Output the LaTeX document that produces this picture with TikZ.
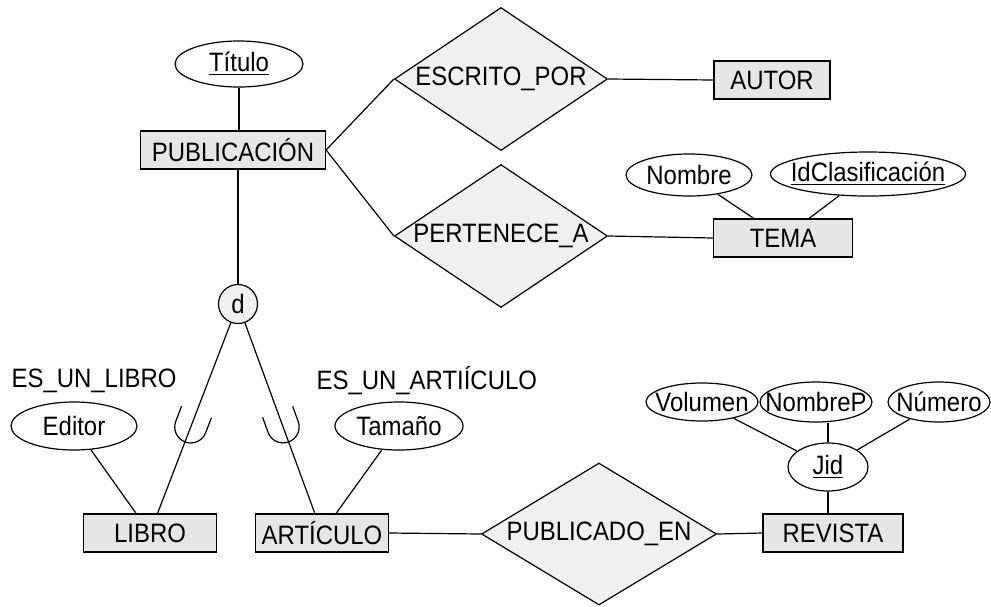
\documentclass[tikz,border=0pt]{standalone}
\usepackage{fontspec}
\setmainfont[FakeStretch=0.9]{Liberation Sans}
\usetikzlibrary{shapes.geometric}
\definecolor{ErEntity}{HTML}{E6E6E6}
\definecolor{ErRelation}{HTML}{F0F0F0}

\newcommand{\fixtext}[1]{\makebox[0pt]{#1}}

\tikzset{
  entity/.style={draw, fill=ErEntity, minimum height=19pt, inner sep=0pt},
  relation/.style={draw, fill=ErRelation, shape=diamond, aspect=1.5, inner sep=0pt},
  attrib/.style={draw, fill=white, shape=ellipse, inner sep=0pt},
  er label/.style={inner sep=0pt, anchor=west}
}

\begin{document}
\begin{tikzpicture}[x=0.5pt, y=-0.5pt, line width=0.6pt, font=\fontsize{13.3}{15}\selectfont]
    \useasboundingbox (0,0) rectangle (991,606);

    % Superclass and its key
    \node[entity, minimum width=92.5pt] (pub) at (233,150) {PUBLICACIÓN};
    \node[attrib, minimum width=64pt, minimum height=23pt] (titulo) at (239,64) {\fixtext{\underline{Título}}};

    % Relationships on the right
    \node[relation, minimum width=106.5pt, minimum height=71.5pt] (escrito) at (501,79) {\fixtext{ESCRITO\_POR}};
    \node[relation, minimum width=106.5pt, minimum height=71.5pt] (pertenece) at (501,236) {\fixtext{PERTENECE\_A}};
    \node[entity, minimum width=58pt] (autor) at (772,80) {AUTOR};
    \node[entity, minimum width=69.5pt] (tema) at (783,238) {TEMA};
    \node[attrib, minimum width=63pt, minimum height=21pt] (nombre) at (689,175) {\fixtext{Nombre}};
    \node[attrib, minimum width=97.5pt, minimum height=22pt] (idclas) at (868,174) {\fixtext{\underline{IdClasificación}}};

    % Specialization circle
    \node[draw, fill=ErRelation, circle, minimum size=19.5pt, inner sep=0pt] (disj) at (238,304) {\fixtext{d}};

    % Subclasses
    \node[entity, minimum width=66.5pt] (libro) at (150,533) {LIBRO};
    \node[entity, minimum width=66.5pt] (articulo) at (322,533) {ARTÍCULO};
    \node[attrib, minimum width=63pt, minimum height=24pt] (editor) at (74,426) {\fixtext{Editor}};
    \node[attrib, minimum width=64pt, minimum height=24pt] (tamano) at (399,426) {\fixtext{Tamaño}};
    \node[er label] (eslibro) at (11,381) {ES\_UN\_LIBRO};
    \node[er label] (esarticulo) at (316,381) {ES\_UN\_ARTIÍCULO};

    % Journal side
    \node[relation, minimum width=117.5pt, minimum height=71pt] (publicado) at (599,534) {\fixtext{PUBLICADO\_EN}};
    \node[entity, minimum width=70pt] (revista) at (833,533) {REVISTA};
    \node[attrib, minimum width=40pt, minimum height=24pt] (jid) at (828,467) {\fixtext{\underline{Jid}}};
    \node[attrib, minimum width=56pt, minimum height=19pt] (volumen) at (702,402) {\fixtext{Volumen}};
    \node[attrib, minimum width=56pt, minimum height=20pt] (nombrep) at (816,402) {\fixtext{NombreP}};
    \node[attrib, minimum width=51pt, minimum height=20pt] (numero) at (939,402) {\fixtext{Número}};

    % Connectors
    \draw (titulo.south) -- (titulo.south |- pub.north);
    \draw (pub.east) -- (escrito.west);
    \draw (pub.east) -- (pertenece.west);
    \draw (escrito.east) -- (autor.west);
    \draw (pertenece.east) -- (tema.west);
    \draw (nombre) -- (tema);
    \draw (idclas) -- (tema);
    \draw (disj.north) -- (disj.north |- pub.south);
    \draw (disj) -- coordinate[pos=0.625] (subL) (libro);
    \draw (disj) -- coordinate[pos=0.625] (subR) (articulo);
    \draw (editor) -- (libro);
    \draw (tamano) -- (articulo);
    \draw (articulo.east) -- (publicado.west);
    \draw (publicado.east) -- (revista.west);
    \draw (jid.south) -- (jid.south |- revista.north);
    \draw (volumen) -- (jid);
    \draw (jid.north) -- (jid.north |- nombrep.south);
    \draw (numero) -- (jid);

    % Subset marks
    \draw[shift={(subL)}, rotate=-21] (-8pt,16pt) -- (-8pt,8pt) arc[start angle=180, end angle=360, radius=8pt] -- (8pt,16pt);
    \draw[shift={(subR)}, rotate=20] (-8pt,16pt) -- (-8pt,8pt) arc[start angle=180, end angle=360, radius=8pt] -- (8pt,16pt);
\end{tikzpicture}
\end{document}
